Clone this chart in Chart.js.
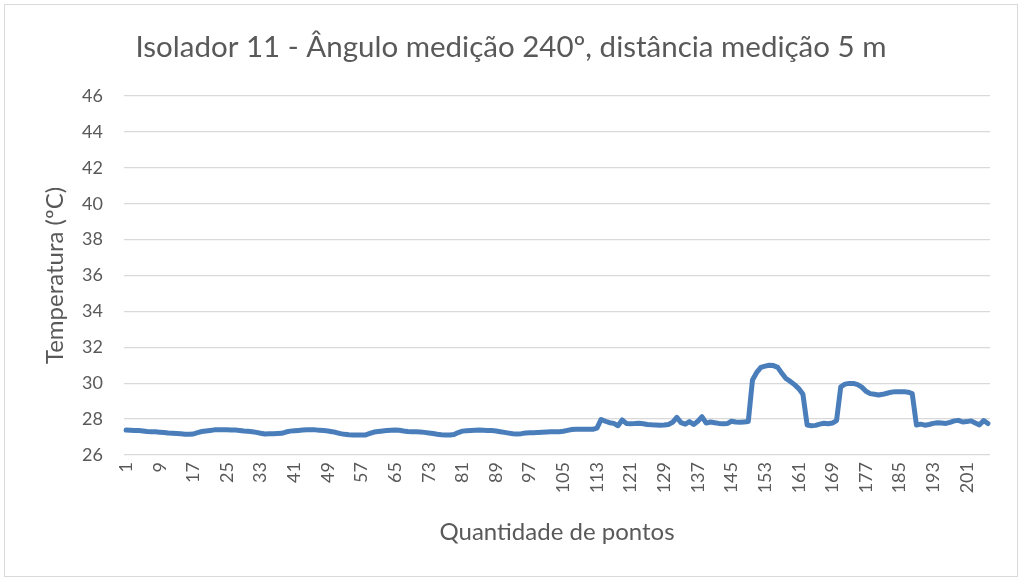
<!DOCTYPE html>
<html>
<head>
<meta charset="utf-8">
<script src="https://cdn.jsdelivr.net/npm/chart.js@4/dist/chart.umd.min.js"></script>
<style>
  html, body { margin: 0; padding: 0; background: #ffffff; }
  #wrap { width: 1022px; height: 581px; position: relative; }
</style>
</head>
<body>
<div id="wrap"><canvas id="chart" width="1022" height="581"></canvas></div>
<script>
// Measurement points 1..206
const categories = [];
for (let i = 1; i <= 206; i++) categories.push(String(i));

// Temperature readings (ºC), one per measurement point
const temperatures = [
  27.39, 27.38, 27.37, 27.36, 27.34, 27.31, 27.30, 27.29, 27.27, 27.25,
  27.22, 27.21, 27.20, 27.18, 27.16, 27.15, 27.17, 27.25, 27.31, 27.34,
  27.37, 27.40, 27.41, 27.41, 27.40, 27.39, 27.39, 27.37, 27.34, 27.32,
  27.30, 27.26, 27.21, 27.17, 27.18, 27.19, 27.20, 27.21, 27.28, 27.33,
  27.35, 27.37, 27.39, 27.40, 27.41, 27.40, 27.38, 27.36, 27.34, 27.30,
  27.25, 27.19, 27.15, 27.13, 27.12, 27.11, 27.11, 27.12, 27.20, 27.28,
  27.31, 27.34, 27.36, 27.38, 27.39, 27.38, 27.34, 27.31, 27.30, 27.29,
  27.28, 27.26, 27.23, 27.20, 27.16, 27.13, 27.12, 27.11, 27.14, 27.25,
  27.33, 27.35, 27.37, 27.38, 27.39, 27.38, 27.37, 27.36, 27.34, 27.30,
  27.26, 27.22, 27.18, 27.17, 27.19, 27.22, 27.24, 27.24, 27.26, 27.27,
  27.28, 27.29, 27.30, 27.30, 27.32, 27.37, 27.42, 27.44, 27.43, 27.43,
  27.44, 27.43, 27.50, 27.98, 27.88, 27.80, 27.76, 27.63, 27.95, 27.76,
  27.74, 27.75, 27.77, 27.74, 27.70, 27.68, 27.67, 27.66, 27.67, 27.70,
  27.82, 28.10, 27.80, 27.72, 27.86, 27.70, 27.88, 28.13, 27.78, 27.84,
  27.80, 27.76, 27.74, 27.75, 27.88, 27.84, 27.82, 27.84, 27.86, 30.18,
  30.60, 30.88, 30.95, 31.00, 30.98, 30.88, 30.55, 30.25, 30.10, 29.92,
  29.70, 29.38, 27.67, 27.63, 27.65, 27.72, 27.77, 27.74, 27.78, 27.92,
  29.80, 29.95, 29.99, 29.99, 29.92, 29.78, 29.55, 29.42, 29.38, 29.34,
  29.38, 29.44, 29.50, 29.53, 29.53, 29.53, 29.50, 29.42, 27.67, 27.72,
  27.66, 27.70, 27.76, 27.80, 27.78, 27.76, 27.82, 27.90, 27.93, 27.84,
  27.86, 27.90, 27.78, 27.68, 27.92, 27.75
];

// Value axis range and tick spacing
const yMin = 26;
const yMax = 46;
const yStep = 2;
// Every 8th point gets a label on the category axis
const xLabelEvery = 8;

const chartTitle = 'Isolador 11 - Ângulo medição 240º, distância medição 5 m';
const xTitle = 'Quantidade de pontos';
const yTitle = 'Temperatura (ºC)';

const textColor = '#595959';
const gridColor = '#d9d9d9';
const fontFamily = 'Lato, "Open Sans", sans-serif';

// Thin frame around the whole chart area
const framePlugin = {
  id: 'frame',
  beforeDraw(chart) {
    const ctx = chart.ctx;
    ctx.save();
    ctx.fillStyle = '#ffffff';
    ctx.fillRect(0, 0, chart.width, chart.height);
    ctx.strokeStyle = gridColor;
    ctx.lineWidth = 1;
    ctx.strokeRect(4.5, 4.5, chart.width - 9, chart.height - 9);
    ctx.restore();
  }
};

new Chart(document.getElementById('chart'), {
  type: 'line',
  data: {
    labels: categories,
    datasets: [{
      data: temperatures,
      borderColor: '#4a7ebb',
      borderWidth: 5,
      borderJoinStyle: 'round',
      borderCapStyle: 'round',
      pointRadius: 0,
      tension: 0,
      fill: false
    }]
  },
  options: {
    responsive: false,
    animation: false,
    devicePixelRatio: 1,
    layout: { padding: 0 },
    plugins: {
      legend: { display: false },
      tooltip: { enabled: false },
      title: {
        display: true,
        text: chartTitle,
        color: textColor,
        font: { family: fontFamily, size: 29.5, weight: '400', lineHeight: 1.2 },
        padding: { top: 29.3, bottom: 31.3 }
      }
    },
    scales: {
      x: {
        type: 'category',
        offset: true,
        grid: { display: false, drawTicks: false },
        border: { display: false },
        ticks: {
          autoSkip: false,
          minRotation: 90,
          maxRotation: 90,
          padding: 7,
          color: textColor,
          font: { family: fontFamily, size: 18 },
          callback: function (value, index) {
            return index % xLabelEvery === 0 ? this.getLabelForValue(value) : '';
          }
        },
        title: {
          display: true,
          text: xTitle,
          color: textColor,
          font: { family: fontFamily, size: 24 },
          padding: { top: 0, bottom: 34.6 }
        },
        afterFit(scale) { scale.height = 126; }
      },
      y: {
        min: yMin,
        max: yMax,
        ticks: {
          stepSize: yStep,
          padding: 21,
          color: textColor,
          font: { family: fontFamily, size: 18 }
        },
        grid: { color: gridColor, lineWidth: 1.3, drawTicks: false },
        border: { display: false },
        title: {
          display: true,
          text: yTitle,
          color: textColor,
          font: { family: fontFamily, size: 24 },
          padding: { top: 41, bottom: 0 }
        },
        afterFit(scale) { scale.width = 124; }
      },
      // empty margin on the right of the plot
      margin: {
        type: 'linear',
        position: 'right',
        display: true,
        grid: { display: false, drawTicks: false },
        border: { display: false },
        ticks: { display: false },
        afterFit(scale) { scale.width = 32; }
      }
    }
  },
  plugins: [framePlugin]
});
</script>
</body>
</html>
